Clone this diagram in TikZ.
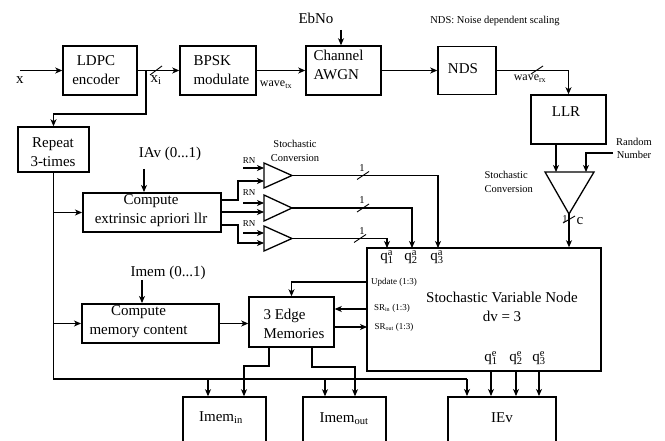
\documentclass[tikz,border=0pt]{standalone}
\usepackage{fontspec}
\setmainfont{Liberation Serif}
\usetikzlibrary{arrows.meta,calc}
\begin{document}
\begin{tikzpicture}[x=1pt,y=-1pt,
 line width=1.1pt,
 arr/.style={-{Stealth[length=7pt,width=6pt,inset=2pt]}},
 blk/.style={draw,line width=1.5pt,inner sep=0pt,rectangle},
 blkb/.style={blk,line width=2pt},
 tri/.style={line width=1.3pt},
 bt/.style={font=\fontsize{15}{19}\selectfont,align=center,inner sep=0pt},
 mid/.style={font=\fontsize{12}{14}\selectfont,inner sep=0pt},
 sm/.style={font=\fontsize{10.5}{13.5}\selectfont,inner sep=0pt,align=center},
 tny/.style={font=\fontsize{9}{11}\selectfont,inner sep=0pt},
 tick/.style={line width=0.9pt}
]
\useasboundingbox[fill=white] (0,0) rectangle (665,441);

% ---------- blocks ----------
\node[blk,minimum width=74pt,minimum height=49pt] (ldpc) at (100,70.5) {};
\node[blk,minimum width=76pt,minimum height=49pt] (bpsk) at (218,70.5) {};
\node[blk,minimum width=75pt,minimum height=49pt] (awgn) at (343.5,70.5) {};
\node[blk,minimum width=58pt,minimum height=48pt] (nds) at (467,70.5) {};
\node[blk,minimum width=75pt,minimum height=49pt] (llr) at (568.5,119.5) {};
\node[blk,minimum width=71pt,minimum height=45pt] (rep) at (53.5,149.5) {};
\node[blkb,minimum width=138pt,minimum height=39pt] (cext) at (152,212.5) {};
\node[blkb,minimum width=137pt,minimum height=39pt] (cmem) at (150.5,323.5) {};
\node[blk,minimum width=85pt,minimum height=50pt] (edge) at (291.5,322) {};
\node[blk,minimum width=234pt,minimum height=123pt] (svn) at (484,309.5) {};
\node[blk,minimum width=83pt,minimum height=60pt] (imin) at (224.5,427) {};
\node[blk,minimum width=83pt,minimum height=60pt] (imout) at (344.5,427) {};
\node[blkb,minimum width=108pt,minimum height=60pt] (iev) at (502,427) {};

% ---------- block texts ----------
\node[bt] (ldpct) at (96,70) {LDPC\\encoder};
\node[bt,align=left,anchor=west] (bpskt) at (193,70) {BPSK\\modulate};
\node[bt,align=left,anchor=west] (awgnt) at (313,65) {Channel\\AWGN};
\node[bt] (ndst) at (463,69) {NDS};
\node[bt] (llrt) at (566,112) {LLR};
\node[bt] (rept) at (53,152) {Repeat\\3-times};
\node[bt] (cextt) at (151,211) {Compute\\extrinsic apriori llr};
\node[bt] (cmemt) at (138.5,321.5) {Compute\\memory content};
\node[bt,align=left,anchor=west] (edget) at (263,323.5) {3 Edge\\Memories};
\node[bt] (svnt) at (502,307) {Stochastic Variable Node\\dv = 3};
\node[bt] (imint) at (221,418) {Imem\textsubscript{in}};
\node[bt] (imoutt) at (344,419) {Imem\textsubscript{out}};
\node[bt] (ievt) at (502,418) {IEv};

% ---------- labels ----------
\node[bt] (xl) at (20,80) {x};
\node[bt] (xil) at (156,80) {x\textsubscript{i}};
\node[mid] (wtx) at (276,85) {wave\textsubscript{tx}};
\node[mid] (wrx) at (530,79) {wave\textsubscript{rx}};
\node[bt] (ebno) at (316,18) {EbNo};
\node[sm] (ndsn) at (495,21) {NDS: Noise dependent scaling};
\node[bt] (iav) at (170,154) {IAv (0...1)};
\node[bt] (imeml) at (168,273) {Imem (0...1)};
\node[tny] (rn1) at (249,161) {RN};
\node[tny] (rn2) at (249,193) {RN};
\node[tny] (rn3) at (249,224) {RN};
\node[sm] (sc1) at (295,151) {Stochastic\\Conversion};
\node[sm,align=left,anchor=west] (sc2) at (484,182) {Stochastic\\Conversion};
\node[sm] (rnd) at (634,148.5) {Random\\Number};
\node[sm] (one1) at (362,168) {1};
\node[sm] (one2) at (362,200) {1};
\node[sm] (one3) at (362,231) {1};
\node[sm] (one4) at (565,219) {1};
\node[bt] (cl) at (580,221) {c};
\node[bt] (qa1) at (387,257) {$\mathrm{q}^{\mathrm{a}}_{\mathrm{1}}$};
\node[bt] (qa2) at (411,257) {$\mathrm{q}^{\mathrm{a}}_{\mathrm{2}}$};
\node[bt] (qa3) at (437,257) {$\mathrm{q}^{\mathrm{a}}_{\mathrm{3}}$};
\node[bt] (qe1) at (491,358) {$\mathrm{q}^{\mathrm{e}}_{\mathrm{1}}$};
\node[bt] (qe2) at (516,358) {$\mathrm{q}^{\mathrm{e}}_{\mathrm{2}}$};
\node[bt] (qe3) at (539,358) {$\mathrm{q}^{\mathrm{e}}_{\mathrm{3}}$};
\node[tny] (upd) at (394,282) {Update (1:3)};
\node[tny] (sri) at (392,308) {SR\textsubscript{in} (1:3)};
\node[tny] (sro) at (394,327) {SR\textsubscript{out} (1:3)};

% ---------- triangles ----------
\draw[tri] (264,163) -- (292,175.5) -- (264,188) -- cycle;
\draw[tri] (264,195) -- (292,208) -- (264,221) -- cycle;
\draw[tri] (264,226) -- (292,238.5) -- (264,251) -- cycle;
\draw[tri] (545,172) -- (594,172) -- (569,214) -- cycle;
\coordinate (t1) at (292,175.5);
\coordinate (t2) at (292,208);
\coordinate (t3) at (292,238.5);
\coordinate (t1a) at (264,168); \coordinate (t1b) at (264,181);
\coordinate (t2a) at (264,203); \coordinate (t2b) at (264,212);
\coordinate (t3a) at (264,233); \coordinate (t3b) at (264,243);
\coordinate (tbapex) at (569,214);
\coordinate (tbl) at (556,172);
\coordinate (tbr) at (586,172);

% ---------- coordinates ----------
\coordinate (xin) at (20,70.5);
\coordinate (xbr) at (146,70.5);
\coordinate (xbr2) at (146,114);
\coordinate (ebin) at (341,30);
\coordinate (rndin) at (613,153);
\coordinate (iavp) at (144,169);
\coordinate (imp) at (142,280);
\coordinate (rn1s) at (243,168);
\coordinate (rn2s) at (243,203);
\coordinate (rn3s) at (243,233);
\coordinate (c1) at (221,200);
\coordinate (c3) at (221,225);
\coordinate (qa1p) at (387,248);
\coordinate (qa2p) at (412,248);
\coordinate (qa3p) at (438,248);
\coordinate (updp) at (367,282);
\coordinate (srinp) at (367,309);
\coordinate (sroutp) at (367,327);
\coordinate (bus0) at (53.5,379);
\coordinate (bus1) at (467,379);
\coordinate (busa) at (208,379);
\coordinate (busb) at (325,379);
\coordinate (e1) at (269,347);
\coordinate (e1b) at (244,366);
\coordinate (e2) at (312,347);
\coordinate (e2b) at (355,367);
\coordinate (qe1p) at (491,371);
\coordinate (qe2p) at (516,371);
\coordinate (qe3p) at (539,371);

% ---------- connectors ----------
\draw[arr] (xin) -- (ldpc.west);
\draw[arr] (ldpc.east) -- (bpsk.west);
\draw[arr] (xbr) -- (xbr2) -| (rep.north);
\draw[arr] (bpsk.east) -- (awgn.west);
\draw[arr] (ebin) -- (ebin |- awgn.north);
\draw[arr] (awgn.east) -- (nds.west);
\draw[arr] (nds.east) -| (llr.north);
\draw[arr] (llr.south -| tbl) -- (tbl);
\draw[arr] (rndin) -| (tbr);
\draw[arr] (tbapex) -- (tbapex |- svn.north);

\draw[arr] (iavp) -- (iavp |- cext.north);
\draw[arr] (imp) -- (imp |- cmem.north);

\draw[arr] (rn1s) -- (t1a);
\draw[arr] (rn2s) -- (t2a);
\draw[arr] (rn3s) -- (t3a);
\draw[arr] (c1) -- ++(17,0) |- (t1b);
\draw[arr] (t2b -| cext.east) -- (t2b);
\draw[arr] (c3) -- ++(17,0) |- (t3b);

\draw[arr] (t1) -| (qa3p);
\draw[arr] (t2) -| (qa2p);
\draw[arr] (t3) -| (qa1p);

\draw[arr] (updp) -| (edge.north);
\draw[arr] (srinp) -- (srinp -| edge.east);
\draw[arr] (sroutp -| edge.east) -- (sroutp);
\draw[arr] (cmem.east) -- (cmem.east -| edge.west);

\draw (rep.south) -- (bus0) -- (bus1);
\draw[arr] (bus1) -- (bus1 |- iev.north);
\draw[arr] (busa) -- (busa |- imin.north);
\draw[arr] (busb) -- (busb |- imout.north);
\draw[arr] (rep.south |- cext.west) -- (cext.west);
\draw[arr] (rep.south |- cmem.west) -- (cmem.west);

\draw[arr] (e1) |- (e1b) -- (e1b |- imin.north);
\draw[arr] (e2) |- (e2b) -- (e2b |- imout.north);

\draw[arr] (qe1p) -- (qe1p |- iev.north);
\draw[arr] (qe2p) -- (qe2p |- iev.north);
\draw[arr] (qe3p) -- (qe3p |- iev.north);

% ---------- bus ticks ----------
\draw[tick] (150,75) -- (162,66);
\draw[tick] (531,74) -- (543,66);
\draw[tick] (357,179.5) -- (369,171.5);
\draw[tick] (357,212) -- (369,204);
\draw[tick] (354,242.5) -- (366,234.5);
\draw[tick] (563,223) -- (575,216);
\end{tikzpicture}
\end{document}
